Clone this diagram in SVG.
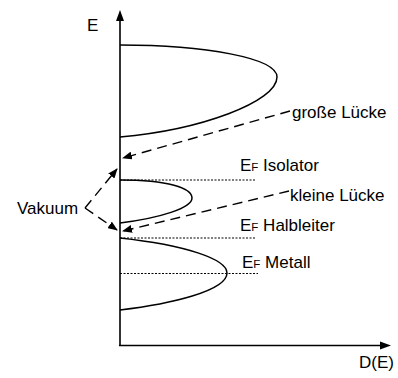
<svg xmlns="http://www.w3.org/2000/svg" width="398" height="378" viewBox="0 0 398 378">
<style>
text{font-family:"Liberation Sans",Arial,sans-serif;font-size:17px;fill:#000}
.sub{font-size:11.5px}
.band{fill:none;stroke:#000;stroke-width:1.5}
.axis{fill:none;stroke:#000;stroke-width:1.6}
.dot{fill:none;stroke:#000;stroke-width:1;stroke-dasharray:2,1.5}
.dash{fill:none;stroke:#000;stroke-width:1.4;stroke-dasharray:10,6}
</style>
<defs>
<marker id="ah" markerWidth="10" markerHeight="8" refX="9" refY="4" orient="auto" markerUnits="userSpaceOnUse">
<path d="M0,0 L10,4 L0,8 Z" fill="#000"/>
</marker>
</defs>
<rect width="398" height="378" fill="#fff"/>
<g id="axes">
<path class="axis" d="M120,346 L120,18"/>
<path d="M120,10 L116,21 L124,21 Z" fill="#000"/>
<path class="axis" d="M119,345.5 L383,345.5"/>
<path d="M391,345.5 L380,341.5 L380,349.5 Z" fill="#000"/>
<text x="87" y="31">E</text>
<text x="359" y="368">D(E)</text>
</g>
<g id="band-top">
<path class="band" d="M120,45 C205,45 277,58 277,77 C277,102 200,130 120,137"/>
</g>
<g id="band-middle">
<path class="band" d="M120,180 C168,180 192,188 192,198 C192,208 160,218 120,223"/>
</g>
<g id="band-bottom">
<path class="band" d="M120,238 C185,245 227,259 227,273 C227,291 170,304 120,310"/>
</g>
<g id="fermi-lines">
<path class="dot" d="M120,180 L256,180"/>
<path class="dot" d="M120,238 L256,238"/>
<path class="dot" d="M120,273.5 L258,273.5"/>
</g>
<g id="labels">
<text x="240" y="171">E<tspan class="sub">F</tspan> Isolator</text>
<text x="240" y="231">E<tspan class="sub">F</tspan> Halbleiter</text>
<text x="242" y="268">E<tspan class="sub">F</tspan> Metall</text>
<text x="292" y="118">große Lücke</text>
<text x="290" y="201">kleine Lücke</text>
<text x="17" y="214">Vakuum</text>
</g>
<g id="connectors">
<path class="dash" d="M290,111 L123,158" marker-end="url(#ah)"/>
<path class="dash" d="M289,191 L123,231" marker-end="url(#ah)"/>
<path class="dash" d="M85,208 L117,169" marker-end="url(#ah)"/>
<path class="dash" d="M85,208 L117,230" marker-end="url(#ah)"/>
</g>
</svg>
